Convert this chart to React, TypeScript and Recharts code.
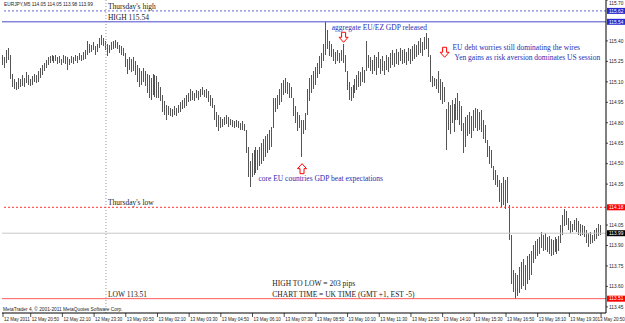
import React from "react";
import {
  Bar,
  ComposedChart,
  ReferenceDot,
  ReferenceLine,
  XAxis,
  YAxis,
} from "recharts";

// EURJPY M5, 12 May 19:40 -> 13 May 20:50 (two empty slots of chart shift at the right)
const SLOTS = 305;
const START_MIN = 19 * 60 + 40;

const HIGHS = [
  115.30, 115.28, 115.33, 115.35, 115.30, 115.16, 115.12, 115.10, 115.13, 115.12,
  115.15, 115.13, 115.17, 115.15, 115.12, 115.14, 115.16, 115.15, 115.18, 115.20,
  115.22, 115.24, 115.26, 115.28, 115.29, 115.30, 115.29, 115.30, 115.28, 115.29,
  115.27, 115.30, 115.29, 115.28, 115.27, 115.29, 115.28, 115.30, 115.29, 115.31,
  115.30, 115.32, 115.33, 115.40, 115.38, 115.37, 115.39, 115.36, 115.38, 115.42,
  115.44, 115.42, 115.40, 115.38, 115.37, 115.39, 115.40, 115.41, 115.39, 115.37,
  115.36, 115.35, 115.31, 115.27, 115.28, 115.27, 115.28, 115.25, 115.22, 115.20,
  115.18, 115.20, 115.18, 115.16, 115.15, 115.13, 115.16, 115.15, 115.14, 115.10,
  115.06, 115.00, 114.96, 114.93, 114.92, 114.91, 114.90, 114.92, 114.91, 114.93,
  114.95, 114.97, 114.98, 115.00, 115.02, 115.05, 115.03, 115.02, 115.04, 115.03,
  115.05, 115.06, 115.04, 115.05, 115.03, 115.00, 114.98, 114.93, 114.88, 114.86,
  114.84, 114.83, 114.84, 114.86, 114.84, 114.83, 114.82, 114.81, 114.82, 114.81,
  114.80, 114.81, 114.79, 114.75, 114.62, 114.52, 114.58, 114.60, 114.62, 114.60,
  114.62, 114.65, 114.68, 114.70, 114.72, 114.75, 114.77, 114.98, 114.98, 115.00,
  115.05, 115.09, 115.11, 115.13, 115.10, 115.09, 115.06, 114.98, 114.92, 114.88,
  114.86, 114.82, 114.82, 114.87, 115.05, 115.13, 115.15, 115.18, 115.21, 115.24,
  115.29, 115.31, 115.38, 115.54, 115.48, 115.40, 115.38, 115.34, 115.32, 115.33,
  115.31, 115.33, 115.38, 115.30, 115.18, 115.10, 115.06, 115.08, 115.12, 115.15,
  115.18, 115.17, 115.21, 115.19, 115.40, 115.30, 115.28, 115.26, 115.30, 115.28,
  115.32, 115.27, 115.29, 115.25, 115.30, 115.28, 115.31, 115.33, 115.31, 115.34,
  115.32, 115.35, 115.33, 115.34, 115.32, 115.35, 115.34, 115.36, 115.38, 115.37,
  115.40, 115.42, 115.39, 115.43, 115.46, 115.42, 115.30, 115.14, 115.13, 115.12,
  115.18, 115.12, 115.10, 115.06, 114.90, 114.95, 114.93, 114.97, 114.94, 114.98,
  115.02, 114.96, 114.92, 114.80, 114.84, 114.86, 114.88, 114.85, 114.89, 114.91,
  114.90, 114.88, 114.89, 114.82, 114.78, 114.67, 114.63, 114.60, 114.48, 114.45,
  114.42, 114.38, 114.36, 114.40, 114.38, 114.40, 114.20, 113.98, 113.72, 113.70,
  113.68, 113.74, 113.78, 113.80, 113.76, 113.82, 113.84, 113.86, 113.90, 113.93,
  113.95, 113.96, 114.00, 113.98, 113.99, 113.96, 113.97, 113.95, 113.94, 113.96,
  113.95, 113.97, 114.05, 114.12, 114.17, 114.15, 114.10, 114.08, 114.06, 114.09,
  114.10, 114.08, 114.06, 114.05, 114.04, 114.01, 113.99, 114.00, 113.98, 114.01,
  114.03, 114.06, 114.05,
];

const LOWS = [
  115.22, 115.20, 115.24, 115.26, 115.12, 115.06, 115.05, 115.04, 115.05, 115.06,
  115.07, 115.06, 115.09, 115.08, 115.07, 115.08, 115.10, 115.09, 115.10, 115.13,
  115.15, 115.18, 115.20, 115.22, 115.24, 115.25, 115.24, 115.25, 115.23, 115.24,
  115.22, 115.24, 115.23, 115.19, 115.22, 115.24, 115.23, 115.25, 115.24, 115.26,
  115.25, 115.26, 115.27, 115.30, 115.31, 115.32, 115.33, 115.30, 115.32, 115.35,
  115.37, 115.36, 115.33, 115.29, 115.31, 115.33, 115.34, 115.35, 115.34, 115.31,
  115.30, 115.29, 115.21, 115.16, 115.19, 115.17, 115.18, 115.15, 115.10, 115.06,
  115.08, 115.10, 115.07, 115.02, 114.98, 114.97, 115.00, 114.99, 114.98, 114.98,
  114.96, 114.88, 114.86, 114.82, 114.86, 114.85, 114.84, 114.86, 114.85, 114.87,
  114.88, 114.90, 114.91, 114.92, 114.95, 114.96, 114.97, 114.96, 114.98, 114.97,
  114.99, 115.00, 114.99, 114.98, 114.95, 114.92, 114.91, 114.82, 114.77, 114.74,
  114.76, 114.77, 114.78, 114.79, 114.77, 114.78, 114.77, 114.76, 114.77, 114.76,
  114.75, 114.75, 114.74, 114.58, 114.40, 114.33, 114.40, 114.42, 114.43, 114.45,
  114.48, 114.50, 114.52, 114.55, 114.58, 114.60, 114.62, 114.76, 114.88, 114.90,
  114.93, 114.95, 115.00, 115.02, 115.01, 114.98, 114.98, 114.85, 114.80, 114.74,
  114.76, 114.55, 114.72, 114.75, 114.86, 114.96, 115.02, 115.05, 115.08, 115.13,
  115.16, 115.20, 115.25, 115.30, 115.34, 115.29, 115.28, 115.25, 115.23, 115.25,
  115.24, 115.25, 115.24, 115.17, 115.04, 114.97, 114.96, 114.98, 115.02, 115.04,
  115.06, 115.07, 115.10, 115.09, 115.18, 115.20, 115.18, 115.16, 115.18, 115.15,
  115.20, 115.16, 115.18, 115.15, 115.19, 115.17, 115.20, 115.22, 115.21, 115.23,
  115.22, 115.25, 115.23, 115.24, 115.22, 115.25, 115.23, 115.25, 115.27, 115.28,
  115.30, 115.31, 115.29, 115.33, 115.34, 115.28, 115.10, 115.06, 115.07, 115.05,
  115.02, 114.97, 114.94, 114.95, 114.60, 114.75, 114.72, 114.80, 114.73, 114.82,
  114.82, 114.78, 114.74, 114.58, 114.62, 114.70, 114.72, 114.69, 114.74, 114.76,
  114.74, 114.75, 114.73, 114.68, 114.65, 114.55, 114.50, 114.47, 114.38, 114.34,
  114.33, 114.22, 114.18, 114.20, 114.17, 114.21, 113.94, 113.62, 113.56, 113.51,
  113.53, 113.55, 113.58, 113.60, 113.57, 113.62, 113.65, 113.68, 113.77, 113.80,
  113.82, 113.84, 113.88, 113.86, 113.87, 113.85, 113.84, 113.82, 113.83, 113.85,
  113.84, 113.86, 113.92, 113.98, 114.04, 114.05, 114.01, 113.99, 114.00, 114.01,
  114.00, 113.98, 113.97, 113.98, 113.96, 113.92, 113.89, 113.91, 113.92, 113.93,
  113.95, 113.97, 113.98,
];

const TICK_TIMES = [
  "12 May 19:40", "12 May 20:50", "12 May 22:10", "12 May 23:30", "13 May 00:50",
  "13 May 02:10", "13 May 03:30", "13 May 04:50", "13 May 06:10", "13 May 07:30",
  "13 May 08:50", "13 May 10:10", "13 May 11:30", "13 May 12:50", "13 May 14:10",
  "13 May 15:30", "13 May 16:50", "13 May 18:10", "13 May 19:30", "13 May 20:50",
];
const TICK_LABELS = ["12 May 2011", ...TICK_TIMES.slice(1)];

const Y_TICKS = [
  113.45, 113.6, 113.75, 113.9, 114.05, 114.35, 114.5, 114.65, 114.8, 114.95,
  115.1, 115.25, 115.4, 115.7,
];

const THU_HIGH = 115.62;
const DAY_HIGH = 115.54;
const THU_LOW = 114.18;
const DAY_LOW = 113.51;
const BID = 113.99;
const SEPARATOR = "13 May 00:00";

const pad = (n: number) => String(n).padStart(2, "0");
const times = Array.from({ length: SLOTS }, (_, i) => {
  const m = START_MIN + i * 5;
  return `${12 + Math.floor(m / 1440)} May ${pad(Math.floor((m % 1440) / 60))}:${pad(m % 60)}`;
});

const rows = times.map((t, i) => ({
  t,
  range: i < HIGHS.length ? [LOWS[i], HIGHS[i]] : null,
}));

const INK = "#1a1a1a";
const BLUE = "#2c2cb4";
const SANS = "Liberation Sans, Arial, sans-serif";
const SERIF = "Liberation Serif, Times New Roman, serif";

const NOTES = [
  { i: 53, price: THU_HIGH, dy: -1.5, color: INK, text: "Thursday's high" },
  { i: 53, price: DAY_HIGH, dy: -1.5, color: INK, text: "HIGH 115.54" },
  { i: 53, price: THU_LOW, dy: -2, color: INK, text: "Thursday's low" },
  { i: 53, price: DAY_LOW, dy: -2, color: INK, text: "LOW 113.51" },
  { i: 136, price: 113.6, dy: 0, color: INK, text: "HIGH TO LOW = 203 pips" },
  { i: 136, price: DAY_LOW, dy: -2, color: INK, text: "CHART TIME = UK TIME (GMT +1, EST -5)" },
  { i: 166, price: 115.48, dy: 0, color: BLUE, text: "aggregate EU/EZ GDP released" },
  { i: 227, price: 115.33, dy: 0, color: BLUE, text: "EU debt worries still dominating the wires" },
  { i: 228, price: 115.26, dy: 0, color: BLUE, text: "Yen gains as risk aversion dominates US session" },
  { i: 129, price: 114.37, dy: 0, color: BLUE, text: "core EU countries GDP beat expectations" },
];

const ARROWS = [
  { i: 172, price: 115.39, up: false },
  { i: 223, price: 115.28, up: false },
  { i: 151, price: 114.5, up: true },
];

function XTick({ x, y, payload }: any) {
  const k = TICK_TIMES.indexOf(payload.value);
  // keep the last label inside the picture
  const tx = Math.min(x + 1, 597.6);
  return (
    <g>
      <line x1={x} x2={x} y1={y} y2={y + 4} stroke="#000" strokeWidth={0.7} />
      <text x={tx} y={y + 8} fontSize={4.5} fontFamily={SANS} fill="#222">
        {TICK_LABELS[k]}
      </text>
    </g>
  );
}

function YTick({ x, y, payload }: any) {
  return (
    <g>
      <line x1={x} x2={x + 2} y1={y} y2={y} stroke="#000" strokeWidth={0.7} />
      <text x={x + 3} y={Math.max(y + 1.8, 4.5)} fontSize={4.8} fontFamily={SANS} fill="#222">
        {Number(payload.value).toFixed(2)}
      </text>
    </g>
  );
}

function PriceTag({ viewBox, bg, value }: any) {
  if (!viewBox) return null;
  const x = viewBox.x + viewBox.width + 1;
  const y = viewBox.y;
  return (
    <g>
      <rect x={x} y={y - 3} width={18} height={6} fill={bg} />
      <text x={x + 2} y={y + 1.8} fontSize={4.8} fontFamily={SANS} fill="#fff">
        {value.toFixed(2)}
      </text>
    </g>
  );
}

const noteShape = (text: string, color: string, dy: number) => (p: any) => (
  <text x={p.cx} y={p.cy + dy} fontSize={7.5} fontFamily={SERIF} fill={color}>
    {text}
  </text>
);

const arrowShape = (up: boolean) => (p: any) => {
  const s = up ? 1 : -1;
  const pts = [
    [0, 0], [4.5, 5], [2, 5], [2, 10], [-2, 10], [-2, 5], [-4.5, 5],
  ].map(([dx, dy]) => `${p.cx + dx},${p.cy + s * dy}`).join(" ");
  return <polygon points={pts} fill="#fff" stroke="#f00" strokeWidth={1} />;
};

export default function App() {
  return (
    <div style={{ position: "absolute", left: 0, top: 0, width: 625, height: 323, background: "#fff" }}>
      <ComposedChart
        width={625}
        height={323}
        data={rows}
        margin={{ top: 0, right: 0, bottom: 0, left: 2 }}
        barCategoryGap={0}
      >
        <XAxis
          dataKey="t"
          ticks={TICK_TIMES}
          interval={0}
          height={10}
          tickSize={0}
          tickMargin={0}
          tickLine={false}
          tick={<XTick />}
          axisLine={{ stroke: "#000" }}
        />
        <YAxis
          yAxisId="l"
          orientation="left"
          width={0}
          domain={[113.405, 115.7]}
          tick={false}
          axisLine={{ stroke: "#8a8a8a" }}
        />
        <YAxis
          yAxisId="r"
          orientation="right"
          width={19}
          domain={[113.405, 115.7]}
          allowDataOverflow
          ticks={Y_TICKS}
          interval={0}
          tickSize={0}
          tickMargin={0}
          tickLine={false}
          tick={<YTick />}
          axisLine={{ stroke: "#000" }}
        />
        <ReferenceLine yAxisId="r" x={SEPARATOR} stroke="#9a9a9a" strokeDasharray="1 2" />
        <ReferenceLine yAxisId="r" y={BID} stroke="#c8c8c8" label={<PriceTag bg="#000" value={BID} />} />
        <ReferenceLine yAxisId="r" y={THU_HIGH} stroke="#6a6ad8" strokeDasharray="2 2" label={<PriceTag bg="#2a2ad0" value={THU_HIGH} />} />
        <ReferenceLine yAxisId="r" y={DAY_HIGH} stroke="#4a4acc" label={<PriceTag bg="#2a2ad0" value={DAY_HIGH} />} />
        <ReferenceLine yAxisId="r" y={THU_LOW} stroke="#ff3030" strokeDasharray="2 2" label={<PriceTag bg="#f00" value={THU_LOW} />} />
        <ReferenceLine yAxisId="r" y={DAY_LOW} stroke="#ff5a5a" label={<PriceTag bg="#f00" value={DAY_LOW} />} />
        <Bar
          yAxisId="r"
          dataKey="range"
          fill="#555"
          barSize={1}
          shapeRendering="crispEdges"
          isAnimationActive={false}
        />
        {NOTES.map((n) => (
          <ReferenceDot
            key={n.text}
            yAxisId="r"
            x={times[n.i]}
            y={n.price}
            r={0}
            shape={noteShape(n.text, n.color, n.dy)}
          />
        ))}
        {ARROWS.map((a) => (
          <ReferenceDot
            key={a.i}
            yAxisId="r"
            x={times[a.i]}
            y={a.price}
            r={0}
            shape={arrowShape(a.up)}
          />
        ))}
      </ComposedChart>
      <svg width={625} height={323} style={{ position: "absolute", left: 0, top: 0, pointerEvents: "none" }}>
        <text x={4} y={6} fontSize={4.8} fontFamily={SANS} fill="#222">
          EURJPY,M5  114.05 114.05 113.98 113.99
        </text>
        <text x={3} y={310.5} fontSize={4.8} fontFamily={SANS} fill="#222">
          MetaTrader 4, © 2001-2011 MetaQuotes Software Corp.
        </text>
      </svg>
    </div>
  );
}
